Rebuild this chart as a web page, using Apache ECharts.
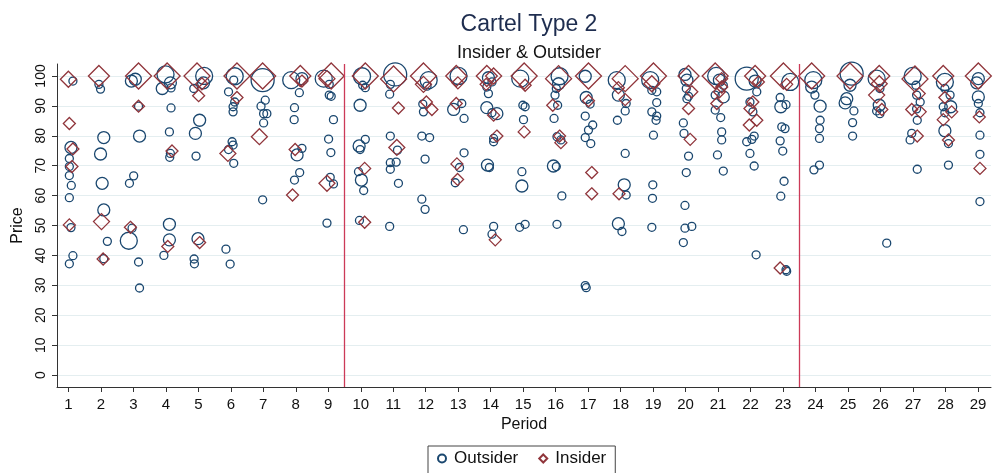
<!DOCTYPE html>
<html>
<head>
<meta charset="utf-8">
<script src="https://cdn.jsdelivr.net/npm/echarts@6/dist/echarts.min.js"></script>
<style>
html,body{margin:0;padding:0;background:#fff;}
#chart{width:993px;height:473px;}
</style>
</head>
<body>
<div id="chart"></div>
<script>
// [period (with jitter as read), price, weight class]
const outsider = [
[1.14,98.3,1],[1.08,76.1,2],[1.03,72.4,1],[1.03,69.7,1],[1.03,66.7,1],[1.09,63.4,1],[1.03,59.3,1],[1.08,49.3,1],[1.14,39.9,1],[1.03,37.2,1],
[1.94,97.2,1],[1.99,95.6,1],[2.09,79.4,2],[1.99,73.9,2],[2.04,64.1,2],[2.09,55.2,2],[2.2,44.7,1],[2.09,38.9,1],
[2.94,98.3,2],[3.06,98.9,2],[3.16,89.9,1],[3.19,79.9,2],[3.01,66.6,1],[2.88,64.1,1],[2.96,49.1,1],[2.86,44.9,3],[3.16,37.8,1],[3.19,29.1,1],
[3.99,100.5,3],[4.14,97.7,2],[3.89,95.8,2],[4.16,96,1],[4.16,89.3,1],[4.11,81.3,1],[4.14,74.1,1],[4.12,72.8,1],[4.11,50.4,2],[4.11,45.2,2],[3.94,40,1],
[5.18,100,3],[5.16,97.7,2],[4.86,95.8,1],[5.04,85.2,2],[4.91,80.8,2],[4.93,73.2,1],[4.99,45.6,2],[4.87,38.8,1],[4.88,37.2,1],
[6.12,99.9,3],[6.09,98.6,1],[5.93,94.7,1],[6.12,91.3,1],[6.07,89.7,1],[6.07,88,1],[6.04,78,1],[6.07,76.9,1],[5.93,75.4,1],[6.09,70.8,1],[5.85,42.1,1],[5.98,37.1,1],
[6.98,98.6,4],[7.06,91.9,1],[6.93,89.9,1],[7.11,87.4,1],[7.01,87.4,1],[7.01,84.3,1],[6.98,58.6,1],
[7.86,98.6,3],[8.19,99.1,2],[8.11,94.4,1],[7.96,89.4,1],[7.95,85.4,1],[8.19,75.8,1],[8.04,73.6,2],[8.12,67.7,1],[7.96,65.2,1],
[8.86,99.1,3],[9.03,97.2,1],[9.03,93.6,1],[9.09,93.2,1],[9.16,85.4,1],[9.01,78.9,1],[9.08,74.4,1],[9.06,66.1,1],[9.16,63.9,1],[8.96,50.8,1],
[10.04,99.9,3],[10.06,96.9,1],[10.14,96.1,1],[9.98,90.2,2],[10.14,78.8,1],[9.95,76.6,2],[9.98,75.4,1],[9.93,68,1],[10.02,65.2,2],[10.09,61.7,1],[9.96,51.7,1],
[11.06,100.5,4],[10.91,97.2,1],[10.89,93.9,1],[10.91,79.9,1],[11.13,75.2,1],[10.91,71,1],[11.09,71.2,1],[10.91,68.8,1],[11.16,64.1,1],[10.89,49.7,1],
[12.09,98.6,3],[12.04,96.6,1],[11.91,90.6,1],[11.93,88,1],[11.88,79.9,1],[12.12,79.4,1],[11.98,72.2,1],[11.88,58.8,1],[11.98,55.4,1],
[13.01,100,3],[13.11,90.8,1],[12.86,88.8,2],[13.18,85.8,1],[13.18,74.3,1],[13.04,69.4,1],[12.91,64.3,1],[13.16,48.6,1],
[13.93,99.4,2],[14.04,98,1],[13.88,96.3,1],[13.93,94.1,1],[13.88,89.4,2],[14.04,87.7,1],[14.19,87.4,2],[14.09,79.1,1],[14.09,78,1],[13.9,70.2,2],[13.96,69.4,1],[14.09,49.7,1],[14.04,47.1,1],
[14.91,99.1,3],[14.99,90.2,1],[15.06,89.7,1],[15.01,85.4,1],[14.96,68,1],[14.96,63.2,2],[14.89,49.4,1],[15.06,50.4,1],
[16.12,99.9,3],[16.09,97.4,2],[16.02,95.8,1],[15.98,93.6,1],[16.06,90.2,1],[15.95,85.8,1],[16.04,79.7,1],[16.16,78.6,1],[15.93,69.9,2],[16.02,69.7,1],[16.19,59.9,1],[16.04,50.4,1],
[16.91,99.9,2],[16.94,92.8,2],[17.06,90.6,1],[16.91,86.6,1],[17.14,83.6,1],[17.01,81.9,1],[16.91,79.4,1],[17.08,77.4,1],[16.91,29.9,1],[16.94,29.2,1],
[17.88,98.6,3],[17.93,93.6,2],[18.17,90.8,1],[18.14,88.3,1],[17.9,85.2,1],[18.14,74.1,1],[18.11,63.6,2],[18.17,60.2,1],[17.93,50.6,2],[18.04,48,1],
[18.91,98.6,3],[18.96,95.2,1],[19.11,94.7,1],[19.11,91.1,1],[18.96,88,1],[19.11,86.6,1],[19.09,85.2,1],[19.01,80.2,1],[18.99,63.6,1],[18.98,59.1,1],[18.96,49.4,1],
[19.98,100.5,2],[20.04,98.6,2],[20.02,95.8,1],[20.09,93.2,1],[20.04,92.4,1],[19.93,84.3,1],[19.95,80.8,1],[20.09,73.2,1],[20.02,67.7,1],[19.98,56.7,1],[19.98,49.1,1],[20.19,49.7,1],[19.93,44.3,1],
[20.94,100,3],[21.04,98.6,2],[21.16,96.9,1],[21.16,93,2],[20.91,93.6,1],[20.91,88.6,1],[21.08,86.1,1],[21.11,81.3,1],[21.11,78.6,1],[20.98,73.6,1],[21.16,68.2,1],
[21.88,99.1,4],[22.14,98.3,2],[22.19,94.7,1],[21.98,91.3,1],[22.07,88,1],[22.11,79.9,1],[22.04,78.8,1],[21.88,78,1],[21.98,74.1,1],[22.11,69.9,1],[22.17,40.2,1],
[23.22,98,3],[22.91,92.8,1],[22.93,89.7,2],[23.09,90.4,1],[22.96,83,1],[23.06,82.4,1],[22.91,78.3,1],[22.99,74.9,1],[23.03,64.8,1],[22.93,59.8,1],[23.11,34.7,1],[23.09,35.2,1],
[23.93,98.6,3],[23.88,96.3,2],[23.98,93.6,1],[24.14,89.9,2],[24.14,85.2,1],[24.12,82.4,1],[24.12,79.1,1],[24.12,70.2,1],[23.95,68.6,1],
[25.11,100.8,4],[25.06,96.9,2],[24.96,92.4,2],[24.91,91,2],[25.18,88.3,1],[25.14,84.4,1],[25.14,79.9,1],
[25.88,99.1,3],[25.98,95.8,1],[25.96,90.2,2],[25.88,88.3,1],[25.98,87.4,1],[26.19,44.1,1],
[26.99,100,3],[27.09,96.9,1],[27.11,93.6,1],[27.22,91.3,1],[27.11,89,1],[27.13,85.2,1],[26.96,80.8,1],[26.91,78.6,1],[27.13,68.8,1],
[27.98,98,3],[27.98,95.8,1],[28.14,93.6,1],[27.93,89.7,1],[28.16,89.7,2],[27.98,87.7,1],[27.98,81.7,2],[28.09,77.4,1],[28.09,70.2,1],
[29.01,99.1,2],[28.96,97.7,2],[29.01,93,2],[29.01,90.8,1],[29.06,87.7,1],[29.06,80.2,1],[29.06,73.8,1],[29.06,58,1]
];
const insider = [
[1.0,98.9,2],[1.03,84.1,1],[1.14,75.6,1],[1.11,69.7,1],[1.03,50.2,1],
[1.94,100,3],[2.02,51.3,2],[2.07,38.8,1],
[3.16,100,4],[3.16,89.9,1],[2.91,49.4,1],
[4.04,100,4],[4.19,74.9,1],[4.06,43,1],
[4.96,100,4],[5.11,97.4,1],[5.01,93.4,1],[5.04,44.3,1],
[6.19,100,4],[6.19,92.8,1],[5.91,74.1,2],
[6.98,100,4],[6.88,79.7,2],
[8.14,100,3],[8.19,98.3,1],[7.98,75.4,1],[7.9,60.2,1],
[9.09,100,4],[8.96,99.1,2],[8.96,64.1,2],
[10.14,100,4],[10.12,69.1,1],[10.12,51.1,1],
[11.01,99,4],[11.16,89.3,1],[11.11,76.1,2],
[11.93,100,4],[11.93,97.2,2],[12.02,91.3,1],[12.19,88.8,1],
[12.94,100,3],[12.99,97.7,1],[12.94,90.8,1],[12.96,70.6,1],[12.98,65.4,1],
[13.88,100,3],[14.09,100,2],[13.86,97.2,1],[14.09,86.9,1],[14.19,79.9,1],[14.14,45.2,1],
[15.03,100,4],[15.06,96.9,1],[15.03,81.3,1],
[16.09,99.1,4],[15.91,90.2,1],[16.12,79.9,1],[16.16,77.7,1],
[17.01,100,4],[17.01,91.7,1],[17.11,67.7,1],[17.11,60.6,1],
[18.14,99.1,4],[17.93,96.1,1],[18.14,92.1,1],[17.95,60.6,1],
[19.01,100,4],[18.96,97.4,2],
[20.09,100,3],[20.19,94.7,1],[20.09,89.1,1],[20.14,78.8,1],
[20.91,100,4],[21.11,99.1,1],[21.11,96.3,1],[21.04,94.7,1],[20.96,90.8,1],
[22.14,100,3],[22.24,98,1],[22.07,91.3,1],[21.98,89.1,1],[22.19,85.2,1],[21.96,83.6,1],
[23.01,100,4],[23.11,97.2,1],[22.91,35.8,1],
[23.88,100,4],
[25.06,100,4],
[25.96,100,3],[25.96,97.4,2],[25.88,93.6,2],[26.04,88.8,1],
[27.06,99,4],[27.19,94.1,1],[26.96,88.8,1],[27.22,88,1],[27.13,79.9,1],
[27.93,100,3],[27.98,92.8,1],[28.19,88,1],[27.93,85.4,1],[28.09,78.6,1],
[29.01,100,4],[29.04,86.3,1],[29.06,69.1,1]
];
const periodTicks = [1,2,3,4,5,6,7,8,9,10,11,12,13,14,15,16,17,18,19,20,21,22,23,24,25,26,27,28,29];
const priceTicks = [0,10,20,30,40,50,60,70,80,90,100];
const regimeBreaks = [9.5, 23.5];

const circleSize = {1: 8, 2: 12, 3: 17, 4: 23};
const diamondSize = {1: 12, 2: 16, 3: 21, 4: 26};
const NAVY = '#1a476f';
const MAROON = '#90353b';
const FONT = '"Liberation Sans", Arial, sans-serif';

const chart = echarts.init(document.getElementById('chart'), null, {renderer: 'canvas'});
chart.setOption({
  animation: false,
  backgroundColor: '#ffffff',
  title: [
    {text: 'Cartel Type 2', left: 524, top: 8, textAlign: 'center',
     textStyle: {fontFamily: FONT, fontSize: 23, fontWeight: 'normal', color: '#1e2d4f'}},
    {text: 'Insider & Outsider', left: 524, top: 39, textAlign: 'center',
     textStyle: {fontFamily: FONT, fontSize: 18, fontWeight: 'normal', color: '#111'}}
  ],
  grid: {left: 57, right: 2, top: 64, bottom: 86, containLabel: false},
  legend: {
    left: 428, top: 446, orient: 'horizontal',
    padding: [4, 9, 8, 9], itemGap: 20, itemWidth: 8, itemHeight: 8,
    borderColor: '#444', borderWidth: 1,
    textStyle: {fontFamily: FONT, fontSize: 17, color: '#111', padding: [0, 0, 0, 3]},
    data: ['Outsider', 'Insider']
  },
  xAxis: {
    type: 'value', min: 0.65, max: 29.4,
    name: 'Period', nameLocation: 'middle', nameGap: 29,
    nameTextStyle: {fontFamily: FONT, fontSize: 16, color: '#111'},
    axisLine: {show: true, onZero: false, lineStyle: {color: '#333', width: 1}},
    axisTick: {show: true, length: 5, customValues: periodTicks, lineStyle: {color: '#333'}},
    axisLabel: {customValues: periodTicks, margin: 10, fontFamily: FONT, fontSize: 15, color: '#111'},
    splitLine: {show: false}
  },
  yAxis: {
    type: 'value', min: -4, max: 104,
    name: 'Price', nameLocation: 'middle', nameGap: 31, nameRotate: 90,
    nameTextStyle: {fontFamily: FONT, fontSize: 16, color: '#111'},
    axisLine: {show: true, onZero: false, lineStyle: {color: '#333', width: 1}},
    axisTick: {show: true, length: 5, customValues: priceTicks, lineStyle: {color: '#333'}},
    axisLabel: {customValues: priceTicks, rotate: 90, margin: 9, fontFamily: FONT, fontSize: 14, color: '#111'},
    splitLine: {show: true, lineStyle: {color: '#e4eef0', width: 1}}
  },
  series: [
    {
      name: 'Outsider', type: 'scatter', symbol: 'circle',
      data: outsider.map(d => [d[0], d[1], d[2]]),
      symbolSize: d => circleSize[d[2]],
      itemStyle: {color: 'rgba(0,0,0,0)', borderColor: NAVY, borderWidth: 1.3, opacity: 1},
      z: 3
    },
    {
      name: 'Insider', type: 'scatter', symbol: 'diamond',
      data: insider.map(d => [d[0], d[1], d[2]]),
      symbolSize: d => diamondSize[d[2]],
      itemStyle: {color: 'rgba(0,0,0,0)', borderColor: MAROON, borderWidth: 1.3, opacity: 1},
      z: 4,
      markLine: {
        silent: true, symbol: 'none', animation: false,
        label: {show: false},
        lineStyle: {color: '#cc3a58', width: 1.3, type: 'solid'},
        data: regimeBreaks.map(v => ({xAxis: v}))
      }
    }
  ]
});
</script>
</body>
</html>
